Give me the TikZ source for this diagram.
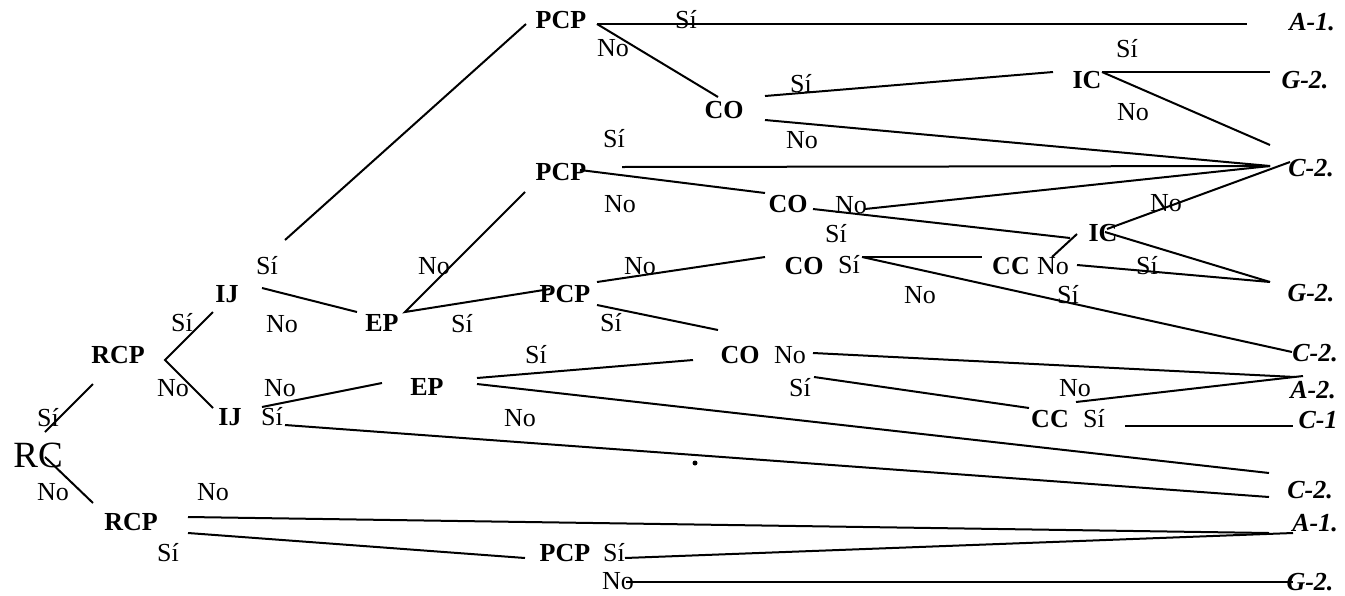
\documentclass[tikz,border=0pt]{standalone}
\usepackage{fontspec}
\setmainfont{Liberation Serif}
\begin{document}
\begin{tikzpicture}[x=1pt,y=-1pt,
 lbl/.style={inner sep=0pt, font=\fontsize{26}{26}\selectfont, text height=17pt, text depth=0pt, anchor=center},
 lb/.style={lbl, font=\fontsize{26}{26}\selectfont\bfseries},
 li/.style={lbl, font=\fontsize{26}{26}\selectfont\bfseries\itshape},
 ln/.style={line width=2pt}]
\useasboundingbox (0,0) rectangle (1345,595);
% ---- labels ----
\node[lb] (pcpA) at (561,20) {PCP};
\node[lbl] (t2) at (686,20) {Sí};
\node[li] (rA1a) at (1312,22) {A-1.};
\node[lbl] (t4) at (613,48) {No};
\node[lbl] (t5) at (1127,49) {Sí};
\node[lbl] (t6) at (801,84) {Sí};
\node[lb] (icA) at (1087,80) {IC};
\node[li] (rG2a) at (1305,80) {G-2.};
\node[lb] (coA) at (724,110) {CO};
\node[lbl] (t10) at (1133,112) {No};
\node[lbl] (t11) at (614,139) {Sí};
\node[lbl] (t12) at (802,140) {No};
\node[lb] (pcpB) at (561,172) {PCP};
\node[li] (rC2a) at (1311,168) {C-2.};
\node[lbl] (t15) at (620,204) {No};
\node[lb] (coB) at (788,204) {CO};
\node[lbl] (t17) at (851,205) {No};
\node[lbl] (t18) at (1166,203) {No};
\node[lbl] (t19) at (836,234) {Sí};
\node[lb] (icB) at (1103,233) {IC};
\node[lbl] (t21) at (267,266) {Sí};
\node[lbl] (t22) at (434,266) {No};
\node[lbl] (t23) at (640,266) {No};
\node[lb] (coC) at (804,266) {CO};
\node[lbl] (t25) at (849,265) {Sí};
\node[lb] (ccA) at (1011,266) {CC};
\node[lbl] (t27) at (1053,266) {No};
\node[lbl] (t28) at (1147,266) {Sí};
\node[lb] (ijA) at (227,294) {IJ};
\node[lb] (pcpC) at (565,294) {PCP};
\node[lbl] (t31) at (920,295) {No};
\node[lbl] (t32) at (1068,295) {Sí};
\node[li] (rG2b) at (1311,293) {G-2.};
\node[lbl] (t34) at (182,323) {Sí};
\node[lbl] (t35) at (282,324) {No};
\node[lb] (epA) at (382,323) {EP};
\node[lbl] (t37) at (462,324) {Sí};
\node[lbl] (t38) at (611,323) {Sí};
\node[lb] (rcpA) at (118,355) {RCP};
\node[lbl] (t40) at (536,355) {Sí};
\node[lb] (coD) at (740,355) {CO};
\node[lbl] (t42) at (790,355) {No};
\node[li] (rC2b) at (1315,353) {C-2.};
\node[lbl] (t44) at (173,388) {No};
\node[lbl] (t45) at (280,388) {No};
\node[lb] (epB) at (427,387) {EP};
\node[lbl] (t47) at (800,388) {Sí};
\node[lbl] (t48) at (1075,388) {No};
\node[li] (rA2) at (1313,390) {A-2.};
\node[lbl] (t50) at (48,418) {Sí};
\node[lb] (ijB) at (230,417) {IJ};
\node[lbl] (t52) at (272,417) {Sí};
\node[lbl] (t53) at (520,418) {No};
\node[lb] (ccB) at (1050,419) {CC};
\node[lbl] (t55) at (1094,419) {Sí};
\node[li] (rC1) at (1318,420) {C-1};
\node[lbl, font=\fontsize{37}{37}\selectfont, text height=25pt] (rc) at (38,455) {RC};
\node[lbl] (t59) at (53,492) {No};
\node[lbl] (t60) at (213,492) {No};
\node[li] (rC2c) at (1310,490) {C-2.};
\node[lb] (rcpB) at (131,522) {RCP};
\node[li] (rA1b) at (1315,523) {A-1.};
\node[lbl] (t64) at (168,553) {Sí};
\node[lb] (pcpD) at (565,553) {PCP};
\node[lbl] (t66) at (614,553) {Sí};
\node[lbl] (t67) at (618,581) {No};
\node[li] (rG2c) at (1310,582) {G-2.};
\fill (695,463) circle (2.5);
% ---- connector end points ----
\coordinate (a1) at (45,432);   \coordinate (a2) at (93,384);
\coordinate (b1) at (45,457);   \coordinate (b2) at (93,503);
\coordinate (c1) at (213,312);  \coordinate (c2) at (165,360);  \coordinate (c3) at (213,408);
\coordinate (d1) at (285,240);  \coordinate (d2) at (526,24);
\coordinate (e1) at (262,288);  \coordinate (e2) at (357,312);
\coordinate (f1) at (405,312);  \coordinate (f2) at (525,192);  \coordinate (g2) at (550,289);
\coordinate (h1) at (597,24);   \coordinate (h2) at (1247,24);  \coordinate (i2) at (718,97);
\coordinate (j1) at (765,96);   \coordinate (j2) at (1053,72);
\coordinate (k1) at (765,120);  \coordinate (cA) at (1270,166);
\coordinate (l1) at (1102,72);  \coordinate (l2) at (1270,72);  \coordinate (m2) at (1270,145);
\coordinate (n1) at (622,167);
\coordinate (o1) at (580,170);  \coordinate (o2) at (765,193);
\coordinate (p1) at (865,209);  \coordinate (q1) at (813,209);  \coordinate (q2) at (1070,238);
\coordinate (r1) at (1107,229); \coordinate (r2) at (1290,162);
\coordinate (s1) at (1105,232); \coordinate (gB) at (1270,282);
\coordinate (t1) at (1052,257); \coordinate (t2p) at (1077,234);
\coordinate (u1) at (1077,265);
\coordinate (v1) at (862,257);  \coordinate (v2) at (982,257);  \coordinate (w2) at (1292,352);
\coordinate (x1) at (597,282);  \coordinate (x2) at (765,257);
\coordinate (y1) at (597,305);  \coordinate (y2) at (718,330);
\coordinate (z1) at (813,353);  \coordinate (aA) at (1295,377);
\coordinate (aa1) at (814,377); \coordinate (aa2) at (1029,408);
\coordinate (bb1) at (1076,402);\coordinate (bb2) at (1303,376);
\coordinate (cc1) at (1125,426);\coordinate (cc2) at (1293,426);
\coordinate (dd1) at (477,378); \coordinate (dd2) at (693,360);
\coordinate (ee1) at (477,384); \coordinate (ee2) at (1269,473);
\coordinate (ff1) at (262,407); \coordinate (ff2) at (382,383);
\coordinate (gg1) at (285,425); \coordinate (gg2) at (1269,497);
\coordinate (hh1) at (188,517); \coordinate (hh2) at (1269,533);
\coordinate (ii1) at (188,533); \coordinate (ii2) at (525,558);
\coordinate (jj1) at (625,558); \coordinate (jj2) at (1293,533);
\coordinate (kk1) at (626,582); \coordinate (kk2) at (1293,582);
% ---- connectors ----
\draw[ln] (a1) -- (a2);
\draw[ln] (b1) -- (b2);
\draw[ln] (c1) -- (c2) -- (c3);
\draw[ln] (d1) -- (d2);
\draw[ln] (e1) -- (e2);
\draw[ln] (f2) -- (f1) -- (g2);
\draw[ln] (h1) -- (h2);
\draw[ln] (h1) -- (i2);
\draw[ln] (j1) -- (j2);
\draw[ln] (k1) -- (cA);
\draw[ln] (l1) -- (l2);
\draw[ln] (l1) -- (m2);
\draw[ln] (n1) -- (cA);
\draw[ln] (o1) -- (o2);
\draw[ln] (p1) -- (cA);
\draw[ln] (q1) -- (q2);
\draw[ln] (r1) -- (r2);
\draw[ln] (s1) -- (gB);
\draw[ln] (t1) -- (t2p);
\draw[ln] (u1) -- (gB);
\draw[ln] (v1) -- (v2);
\draw[ln] (v1) -- (w2);
\draw[ln] (x1) -- (x2);
\draw[ln] (y1) -- (y2);
\draw[ln] (z1) -- (aA);
\draw[ln] (aa1) -- (aa2);
\draw[ln] (bb1) -- (bb2);
\draw[ln] (cc1) -- (cc2);
\draw[ln] (dd1) -- (dd2);
\draw[ln] (ee1) -- (ee2);
\draw[ln] (ff1) -- (ff2);
\draw[ln] (gg1) -- (gg2);
\draw[ln] (hh1) -- (hh2);
\draw[ln] (ii1) -- (ii2);
\draw[ln] (jj1) -- (jj2);
\draw[ln] (kk1) -- (kk2);
\end{tikzpicture}
\end{document}
